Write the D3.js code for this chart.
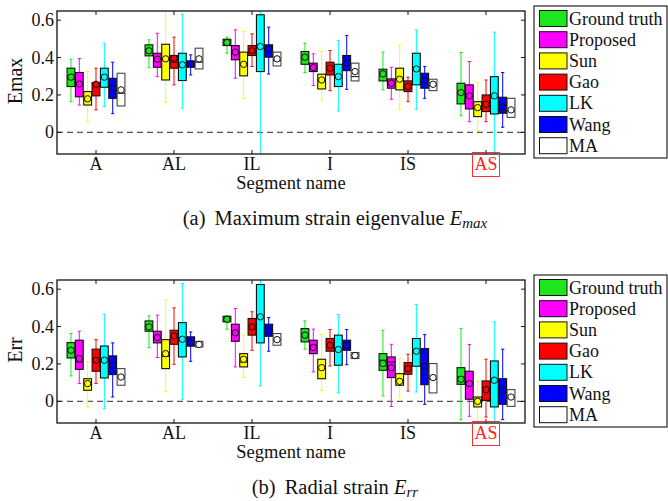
<html>
<head>
  <script src="https://d3js.org/d3.v7.min.js"></script>
  <style>
    body { margin: 0; background: #fff; }
    text { font-family: "Liberation Serif", "Times New Roman", serif; fill: #111; }
  </style>
</head>
<body>
<script>
// segments and methods
var segments = ["A", "AL", "IL", "I", "IS", "AS"];
var methods = ["Ground truth", "Proposed", "Sun", "Gao", "LK", "Wang", "MA"];
var colors = ["#1ee61e", "#ff00ff", "#ffff00", "#ff0000", "#00ffff", "#0000ff", "#ffffff"];
var yTicks = [0, 0.2, 0.4, 0.6];

// each row: [whisker low, q1, median, q3, whisker high, mean], one row per segment
var emaxGT   = [[0.164,0.245,0.29,0.343,0.391,0.295],[0.346,0.409,0.44,0.468,0.495,0.436],[0.423,0.464,0.48,0.498,0.509,0.48],[0.32,0.364,0.40,0.432,0.477,0.402],[0.227,0.275,0.31,0.3375,0.429,0.3125],[0.089,0.152,0.21,0.2625,0.427,0.2125]];
var emaxProp = [[0.146,0.19,0.255,0.32,0.395,0.259],[0.298,0.348,0.39,0.423,0.53,0.391],[0.289,0.388,0.43,0.464,0.548,0.429],[0.25,0.325,0.345,0.37,0.42,0.346],[0.177,0.236,0.26,0.286,0.348,0.2625],[0.057,0.125,0.19,0.254,0.379,0.195]];
var emaxSun  = [[0.057,0.146,0.175,0.218,0.325,0.179],[0.161,0.28,0.39,0.471,0.70,0.393],[0.182,0.302,0.36,0.429,0.539,0.364],[0.173,0.232,0.275,0.311,0.432,0.28],[0.123,0.227,0.28,0.343,0.468,0.284],[0.009,0.084,0.13,0.164,0.266,0.132]];
var emaxGao  = [[0.12,0.195,0.255,0.266,0.343,0.257],[0.254,0.343,0.375,0.411,0.509,0.396],[0.352,0.411,0.43,0.464,0.527,0.436],[0.223,0.307,0.34,0.375,0.4375,0.343],[0.164,0.218,0.245,0.275,0.295,0.245],[0.057,0.111,0.15,0.2,0.28,0.15]];
var emaxLK   = [[0.137,0.241,0.29,0.343,0.477,0.295],[0.129,0.277,0.36,0.423,0.632,0.361],[-0.2,0.325,0.45,0.629,0.8,0.459],[0.114,0.245,0.30,0.364,0.491,0.298],[0.123,0.254,0.33,0.423,0.548,0.339],[-0.2,0.098,0.19,0.298,0.536,0.195]];
var emaxWang = [[0.10,0.182,0.235,0.289,0.375,0.236],[0.307,0.348,0.366,0.382,0.414,0.366],[0.312,0.402,0.445,0.468,0.5625,0.446],[0.23,0.33,0.37,0.411,0.518,0.37],[0.182,0.236,0.275,0.316,0.352,0.277],[0.027,0.102,0.135,0.1875,0.32,0.134]];
var emaxMA   = [[0.141,0.141,0.209,0.316,0.316,0.227],[0.339,0.339,0.375,0.45,0.45,0.393],[0.355,0.355,0.384,0.429,0.429,0.393],[0.275,0.275,0.298,0.37,0.37,0.325],[0.223,0.223,0.25,0.284,0.284,0.257],[0.08,0.08,0.115,0.182,0.182,0.12]];

var errGT   = [[0.136,0.232,0.27,0.314,0.3625,0.273],[0.2875,0.375,0.40,0.43,0.457,0.398],[0.386,0.425,0.44,0.455,0.457,0.439],[0.279,0.318,0.355,0.389,0.43,0.354],[0.029,0.166,0.22,0.255,0.38,0.202],[-0.098,0.091,0.13,0.18,0.389,0.118]];
var errProp = [[0.095,0.171,0.21,0.327,0.375,0.229],[0.234,0.3125,0.34,0.375,0.461,0.341],[0.184,0.321,0.37,0.4125,0.496,0.366],[0.157,0.255,0.30,0.327,0.386,0.2875],[-0.027,0.127,0.21,0.2375,0.305,0.18],[-0.08,0.011,0.10,0.161,0.304,0.095]];
var errSun  = [[-0.03,0.059,0.095,0.121,0.211,0.095],[0.054,0.175,0.24,0.33,0.541,0.255],[0.127,0.184,0.21,0.255,0.354,0.225],[0.059,0.121,0.18,0.225,0.357,0.18],[0.018,0.086,0.107,0.148,0.229,0.107],[-0.12,-0.03,0.0,0.023,0.107,0.0]];
var errGao  = [[0.095,0.161,0.22,0.279,0.33,0.22],[0.198,0.305,0.35,0.38,0.5,0.35],[0.273,0.354,0.40,0.443,0.479,0.398],[0.189,0.268,0.30,0.336,0.384,0.3],[0.055,0.145,0.175,0.207,0.252,0.175],[-0.084,0.005,0.06,0.109,0.225,0.0625]];
var errLK   = [[-0.039,0.125,0.22,0.296,0.466,0.22],[0.011,0.2375,0.33,0.421,0.63,0.332],[0.082,0.3125,0.45,0.625,0.8,0.452],[0.045,0.193,0.28,0.354,0.464,0.277],[0.05,0.1875,0.27,0.336,0.518,0.268],[-0.2,-0.03,0.11,0.216,0.425,0.1125]];
var errWang = [[0.023,0.143,0.19,0.243,0.3125,0.193],[0.214,0.295,0.315,0.345,0.371,0.314],[0.268,0.348,0.38,0.4125,0.448,0.377],[0.196,0.273,0.30,0.327,0.384,0.3],[-0.016,0.089,0.19,0.282,0.357,0.1875],[-0.098,-0.016,0.06,0.121,0.279,0.059]];
var errMA   = [[0.086,0.086,0.13,0.175,0.175,0.13],[0.291,0.291,0.304,0.321,0.321,0.304],[0.3,0.3,0.33,0.3625,0.3625,0.33],[0.229,0.229,0.245,0.261,0.261,0.245],[0.045,0.045,0.12,0.202,0.202,0.127],[-0.027,-0.027,0.02,0.0625,0.0625,0.023]];

var width = 668, height = 501;

var svg = d3.select("body").append("svg")
  .attr("width", width)
  .attr("height", height);

var x = d3.scaleLinear().domain([0.5, 6.5]).range([57, 525]);
var step = 0.107, boxW = 0.1;

function drawPanel(top, series, yLabel, caption, sub) {
  var y = d3.scaleLinear().domain([-0.116, 0.649]).range([top + 143, top]);
  var g = svg.append("g");
  var clipId = "clip" + top;
  g.append("clipPath").attr("id", clipId)
    .append("rect").attr("x", x.range()[0]).attr("y", top)
    .attr("width", x.range()[1] - x.range()[0]).attr("height", 143);

  var plot = g.append("g").attr("clip-path", "url(#" + clipId + ")");

  // zero line
  plot.append("line")
    .attr("x1", x.range()[0]).attr("x2", x.range()[1])
    .attr("y1", y(0)).attr("y2", y(0))
    .attr("stroke", "#555").attr("stroke-width", 1.2)
    .attr("stroke-dasharray", "6,4");

  series.forEach(function(rows, j) {
    var col = colors[j];
    var sg = plot.append("g");
    rows.forEach(function(d, i) {
      var cx = x(i + 1 + (j - 3) * step);
      var hw = (x(boxW) - x(0)) / 2;
      // whiskers
      sg.append("line").attr("x1", cx).attr("x2", cx)
        .attr("y1", y(d[0])).attr("y2", y(d[4]))
        .attr("stroke", col).attr("stroke-width", 1);
      [d[0], d[4]].forEach(function(v) {
        sg.append("line").attr("x1", cx - 1.6).attr("x2", cx + 1.6)
          .attr("y1", y(v)).attr("y2", y(v))
          .attr("stroke", col).attr("stroke-width", 1);
      });
      // box
      sg.append("rect")
        .attr("x", cx - hw).attr("width", hw * 2)
        .attr("y", y(d[3])).attr("height", y(d[1]) - y(d[3]))
        .attr("fill", col)
        .attr("stroke", j == 6 ? "#444" : "#111").attr("stroke-width", 1.1);
      // median
      sg.append("line").attr("x1", cx - hw).attr("x2", cx + hw)
        .attr("y1", y(d[2])).attr("y2", y(d[2]))
        .attr("stroke", "#111").attr("stroke-width", 1);
      // mean
      sg.append("circle").attr("cx", cx).attr("cy", y(d[5])).attr("r", 3.2)
        .attr("fill", col).attr("stroke", "#111").attr("stroke-width", 1);
    });
  });

  // frame
  g.append("rect")
    .attr("x", x.range()[0]).attr("y", top)
    .attr("width", x.range()[1] - x.range()[0]).attr("height", 143)
    .attr("fill", "none").attr("stroke", "#111").attr("stroke-width", 1.3);

  // y ticks (inward, both sides)
  yTicks.forEach(function(t) {
    g.append("line").attr("x1", x.range()[0]).attr("x2", x.range()[0] + 4)
      .attr("y1", y(t)).attr("y2", y(t)).attr("stroke", "#111");
    g.append("line").attr("x1", x.range()[1]).attr("x2", x.range()[1] - 4)
      .attr("y1", y(t)).attr("y2", y(t)).attr("stroke", "#111");
    g.append("text").attr("x", x.range()[0] - 3).attr("y", y(t) + 6)
      .attr("text-anchor", "end").attr("font-size", 18)
      .text(t == 0 ? "0" : d3.format(".1f")(t));
  });

  // x ticks (inward, top and bottom)
  segments.forEach(function(s, i) {
    var cx = x(i + 1);
    g.append("line").attr("x1", cx).attr("x2", cx)
      .attr("y1", top + 143).attr("y2", top + 139).attr("stroke", "#111");
    g.append("line").attr("x1", cx).attr("x2", cx)
      .attr("y1", top).attr("y2", top + 4).attr("stroke", "#111");
    var t = g.append("text").attr("x", cx).attr("y", top + 159)
      .attr("text-anchor", "middle").attr("font-size", 18).text(s);
    if (s == "AS") {
      t.style("fill", "#ff2020");
      g.append("rect").attr("x", cx - 13.5).attr("y", top + 141.5)
        .attr("width", 27).attr("height", 24)
        .attr("fill", "none").attr("stroke", "#ff3030").attr("stroke-width", 1);
    }
  });

  // axis labels
  g.append("text").attr("x", 291).attr("y", top + 178)
    .attr("text-anchor", "middle").attr("font-size", 18.5).text("Segment name");
  g.append("text")
    .attr("transform", "translate(22," + (top + 70) + ") rotate(-90)")
    .attr("text-anchor", "middle").attr("font-size", 20).text(yLabel);

  // caption
  var cap = g.append("text").attr("x", 335).attr("y", top + 214)
    .attr("text-anchor", "middle").attr("font-size", 20.5);
  cap.append("tspan").text(caption[0]);
  cap.append("tspan").attr("dx", 9).text(caption[1]);
  cap.append("tspan").style("font-style", "italic").text("E");
  cap.append("tspan").style("font-style", "italic")
    .attr("font-size", 15).attr("dy", 3).text(sub);

  // legend
  var lg = g.append("g");
  lg.append("rect").attr("x", 534).attr("y", top - 5)
    .attr("width", 133).attr("height", 152)
    .attr("fill", "#fff").attr("stroke", "#111").attr("stroke-width", 1.1);
  methods.forEach(function(m, j) {
    var ry = top + 7.5 + j * 21.2;
    lg.append("rect").attr("x", 539.5).attr("y", ry - 8)
      .attr("width", 27.5).attr("height", 16)
      .attr("fill", colors[j]).attr("stroke", "#111").attr("stroke-width", 1);
    lg.append("text").attr("x", 569).attr("y", ry + 6)
      .attr("font-size", 18).text(m);
  });
}

drawPanel(11, [emaxGT, emaxProp, emaxSun, emaxGao, emaxLK, emaxWang, emaxMA],
  "Emax", ["(a)", "Maximum strain eigenvalue "], "max");
drawPanel(280, [errGT, errProp, errSun, errGao, errLK, errWang, errMA],
  "Err", ["(b)", "Radial strain "], "rr");
</script>
</body>
</html>
